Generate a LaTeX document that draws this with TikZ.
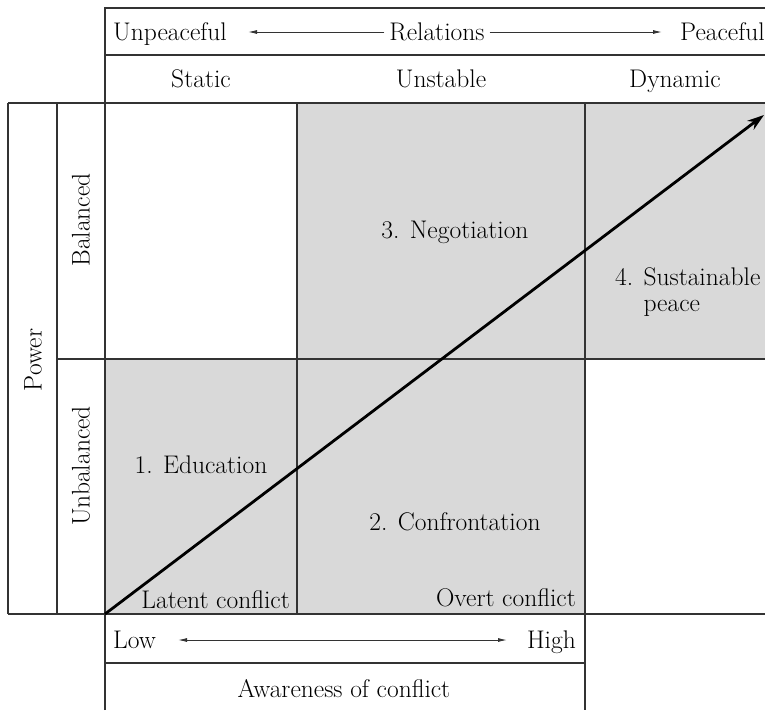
\documentclass[tikz,border=0pt]{standalone}
\usetikzlibrary{arrows.meta}

\definecolor{cellgray}{HTML}{D9D9D9}
\definecolor{rulegray}{HTML}{333333}

\begin{document}
\begin{tikzpicture}[
    x=1pt, y=-1pt,
    rule/.style={draw=rulegray, line width=1.2pt},
    cell/.style={fill=cellgray},
    scale arrow/.style={-{Latex[length=9pt,width=4pt]}, line width=0.9pt, draw=rulegray},
    both arrow/.style={{Latex[length=9pt,width=4pt]}-{Latex[length=9pt,width=4pt]}, line width=0.9pt, draw=rulegray},
    path arrow/.style={-{Stealth[length=17pt,width=11pt]}, line width=2.8pt},
    label/.style={font=\fontsize{25.5}{26}\selectfont, inner sep=0pt, text=black},
]
\useasboundingbox (0,0) rectangle (765,710);

%-------------------------------------------------
% Shaded cells
%-------------------------------------------------
\fill[cell] (297,103) rectangle (765,359);
\fill[cell] (105,359) rectangle (585,614);

%-------------------------------------------------
% Rules
%-------------------------------------------------
\draw[rule] (105,710) -- (105,8) -- (765,8);
\draw[rule] (105,55) -- (765,55);
\draw[rule] (8,103) -- (765,103);
\draw[rule] (57,359) -- (765,359);
\draw[rule] (8,614) -- (765,614);
\draw[rule] (105,663) -- (585,663);
\draw[rule] (8,103) -- (8,614);
\draw[rule] (57,103) -- (57,614);
\draw[rule] (297,103) -- (297,614);
\draw[rule] (585,103) -- (585,710);

%-------------------------------------------------
% Relations header
%-------------------------------------------------
\node[label, anchor=base west] (unpeaceful) at (113,40) {Unpeaceful};
\node[label, anchor=base] (relations) at (437,40) {Relations};
\node[label, anchor=base west] (peaceful) at (680,40) {Peaceful};
\coordinate (relleft) at (248,32);
\coordinate (relright) at (662,32);
\draw[scale arrow] (relations.west |- relleft) ++(-5,0) -- (relleft);
\draw[scale arrow] (relations.east |- relright) ++(5,0) -- (relright);

\node[label, anchor=base] (static)   at (201,87) {Static};
\node[label, anchor=base] (unstable) at (441,87) {Unstable};
\node[label, anchor=base] (dynamic)  at (675,87) {Dynamic};

%-------------------------------------------------
% Power axis
%-------------------------------------------------
\node[label, rotate=90] (power)      at (33,360) {Power};
\node[label, rotate=90] (balanced)   at (81,220) {Balanced};
\node[label, rotate=90] (unbalanced) at (81,466) {Unbalanced};

%-------------------------------------------------
% Stages
%-------------------------------------------------
\node[label] (negotiation) at (455,232) {3. Negotiation};
\node[label, anchor=base west, align=left] (peace) at (615,311)
    {4. Sustainable\\\phantom{4. }peace};
\node[label] (education) at (201,465) {1. Education};
\node[label] (confrontation) at (455,522) {2. Confrontation};
\node[label, anchor=base east] (latent) at (290,608) {Latent conflict};
\node[label, anchor=base east] (overt) at (576,606) {Overt conflict};

%-------------------------------------------------
% Awareness axis
%-------------------------------------------------
\node[label, anchor=base west] (low) at (113,648) {Low};
\node[label, anchor=base east] (high) at (576,648) {High};
\coordinate (awleft) at (178,640);
\coordinate (awright) at (507,640);
\draw[both arrow] (awleft) -- (awright);
\node[label, anchor=base] (awareness) at (344,697) {Awareness of conflict};

%-------------------------------------------------
% Path to peace
%-------------------------------------------------
\coordinate (origin) at (105,614);
\coordinate (goal) at (764,115);
\draw[path arrow] (origin) -- (goal);

\end{tikzpicture}
\end{document}
